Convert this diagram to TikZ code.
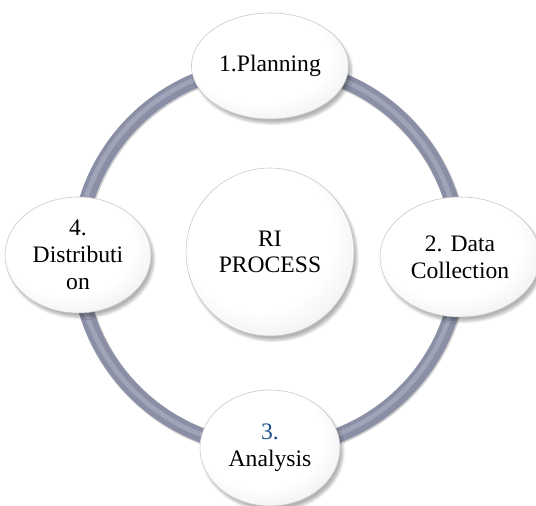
\documentclass[tikz,border=0pt]{standalone}
\usepackage{fontspec}
\setmainfont{Liberation Serif}
\usetikzlibrary{shapes.geometric,shadows.blur,backgrounds}
\definecolor{ringgray}{HTML}{8A8FA6}
\definecolor{ringlight}{HTML}{A9AEC2}
\definecolor{numblue}{HTML}{1F4E8C}
\pgfdeclareradialshading{bubble}{\pgfpoint{-6bp}{8bp}}{color(0bp)=(white); color(22bp)=(white); color(36bp)=(black!9); color(50bp)=(black!32)}
\tikzset{
	stage/.style={ellipse, shading=bubble, draw=black!22, line width=0.4pt, align=center,
		font=\fontsize{16.8}{19}\selectfont,
		blur shadow={shadow xshift=2pt, shadow yshift=-3pt, shadow blur steps=6, shadow opacity=30}},
	ring/.style={line width=0.37cm, draw=ringgray,
		preaction={draw=black!18, line width=0.4cm, transform canvas={xshift=0.5pt, yshift=-0.7pt}},
		postaction={draw=ringlight, line width=0.12cm, opacity=0.7, transform canvas={xshift=-0.6pt, yshift=0.6pt}}}
}
\begin{document}
\begin{tikzpicture}
		\useasboundingbox (0,0) rectangle (13.4,12.65);
		\node [stage, minimum width=3.9cm, minimum height=2.65cm] (plan) at (6.75,11.0) {1.Planning};
		\node [stage, minimum width=4.0cm, minimum height=3.0cm] (data) at (11.5,6.225) {2. Data\\Collection};
		\node [stage, minimum width=3.5cm, minimum height=2.9cm] (anal) at (6.75,1.45) {\textcolor{numblue}{3.}\\Analysis};
		\node [stage, minimum width=3.65cm, minimum height=2.9cm] (dist) at (1.95,6.275) {4.\\Distributi\\on};
		\node [stage, circle, minimum size=4.2cm] (ri) at (6.75,6.35) {RI\\PROCESS};
		\begin{scope}[on background layer]
			\draw [ring] (plan.center) to [bend left=45] (data.center) to [bend left=45] (anal.center)
				to [bend left=45] (dist.center) to [bend left=45] (plan.center);
		\end{scope}
\end{tikzpicture}
\end{document}
